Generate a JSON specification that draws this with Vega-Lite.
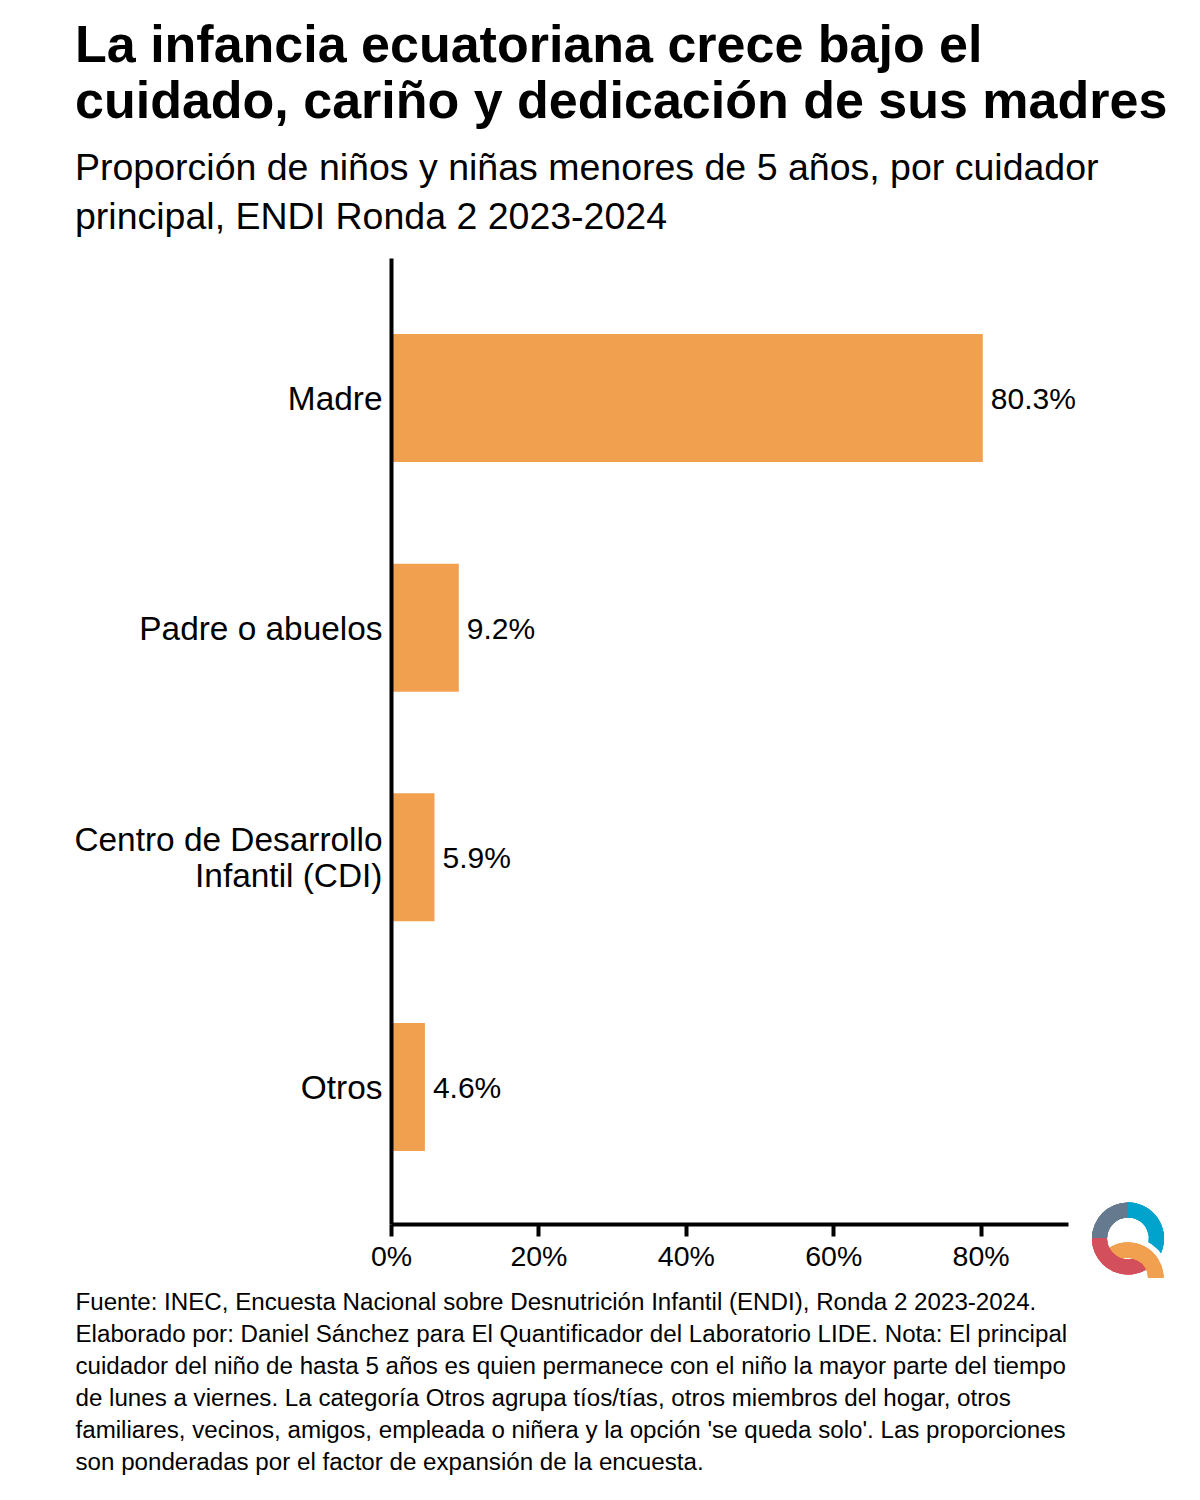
{"$schema":"https://vega.github.io/schema/vega-lite/v6.json","width":677,"height":966,"autosize":{"type":"none"},"padding":{"left":391,"top":258,"right":132,"bottom":276},"background":"white","config":{"view":{"stroke":null},"font":"Liberation Sans"},"title":{"text":["La infancia ecuatoriana crece bajo el","cuidado, cariño y dedicación de sus madres"],"subtitle":["Proporción de niños y niñas menores de 5 años, por cuidador","principal, ENDI Ronda 2 2023-2024"],"anchor":"start","frame":"group","dx":-316,"offset":21,"font":"Liberation Sans","fontSize":52,"fontWeight":"bold","lineHeight":56,"color":"#000000","subtitleFont":"Liberation Sans","subtitleFontSize":37.5,"subtitleLineHeight":49,"subtitleColor":"#000000","subtitlePadding":21},"data":{"values":[{"cuidador":"Madre","proporcion":0.803},{"cuidador":"Padre o abuelos","proporcion":0.092},{"cuidador":"Centro de Desarrollo Infantil (CDI)","proporcion":0.059},{"cuidador":"Otros","proporcion":0.046}]},"layer":[{"layer":[{"mark":{"type":"bar","color":"#F1A050"},"encoding":{"y":{"field":"cuidador","type":"nominal","sort":null,"title":null,"scale":{"paddingInner":0.4425,"paddingOuter":0.325,"align":0.51},"axis":{"ticks":false,"zindex":1,"domainWidth":4,"domainColor":"#000000","labelFontSize":33.4,"labelColor":"#000000","labelPadding":9,"labelLineHeight":36,"labelLimit":400,"labelExpr":"datum.label=='Centro de Desarrollo Infantil (CDI)'?['Centro de Desarrollo','Infantil (CDI)']:datum.label","labelOffset":{"condition":{"test":"datum.value=='Centro de Desarrollo Infantil (CDI)'","value":-16},"value":2}}},"x":{"field":"proporcion","type":"quantitative","scale":{"domain":[0,0.9186],"nice":false},"axis":{"format":".0%","values":[0,0.2,0.4,0.6,0.8],"grid":false,"zindex":1,"domainWidth":4,"domainColor":"#000000","tickWidth":4,"tickColor":"#000000","tickSize":12,"labelFontSize":28.5,"labelColor":"#000000","labelPadding":6,"labelFlush":false,"title":["Fuente: INEC, Encuesta Nacional sobre Desnutrición Infantil (ENDI), Ronda 2 2023-2024.","Elaborado por: Daniel Sánchez para El Quantificador del Laboratorio LIDE. Nota: El principal","cuidador del niño de hasta 5 años es quien permanece con el niño la mayor parte del tiempo","de lunes a viernes. La categoría Otros agrupa tíos/tías, otros miembros del hogar, otros","familiares, vecinos, amigos, empleada o niñera y la opción 'se queda solo'. Las proporciones","son ponderadas por el factor de expansión de la encuesta."],"titleFont":"Liberation Sans","titleFontSize":24.15,"titleFontWeight":"normal","titleColor":"#000000","titleAlign":"left","titleAnchor":"start","titleBaseline":"top","titleX":-316,"titleY":66,"titleLineHeight":32}}}},{"mark":{"type":"text","align":"left","baseline":"middle","dx":8,"dy":2,"fontSize":30,"color":"#000000"},"encoding":{"y":{"field":"cuidador","type":"nominal","sort":null},"x":{"field":"proporcion","type":"quantitative"},"text":{"field":"proporcion","type":"quantitative","format":".1%"}}}]},{"layer":[{"mark":{"type":"arc","color":"#00A3CC","outerRadius":36,"innerRadius":21,"theta":0,"theta2":2.3},"encoding":{"x":{"datum":1.0},"y":{"datum":-0.015,"type":"quantitative","scale":{"domain":[0,1],"range":[966,0]},"axis":null}}},{"mark":{"type":"arc","color":"#667A8F","outerRadius":36,"innerRadius":21,"theta":4.7124,"theta2":6.2832},"encoding":{"x":{"datum":1.0},"y":{"datum":-0.015,"type":"quantitative","scale":{"domain":[0,1],"range":[966,0]},"axis":null}}},{"mark":{"type":"arc","color":"#D44F5C","outerRadius":36,"innerRadius":21,"theta":2.6,"theta2":3.1416},"encoding":{"x":{"datum":1.0},"y":{"datum":-0.015,"type":"quantitative","scale":{"domain":[0,1],"range":[966,0]},"axis":null}}},{"mark":{"type":"arc","color":"#FFFFFF","outerRadius":41,"innerRadius":35,"theta":0.1,"theta2":1.5708},"encoding":{"x":{"datum":1.0},"y":{"datum":-0.0559,"type":"quantitative","scale":{"domain":[0,1],"range":[966,0]},"axis":null}}},{"mark":{"type":"arc","color":"#F1A050","outerRadius":35.5,"innerRadius":20,"theta":-0.6,"theta2":1.5708},"encoding":{"x":{"datum":1.0},"y":{"datum":-0.0559,"type":"quantitative","scale":{"domain":[0,1],"range":[966,0]},"axis":null}}},{"mark":{"type":"arc","color":"#D44F5C","outerRadius":36,"innerRadius":21,"theta":3.1416,"theta2":4.7124},"encoding":{"x":{"datum":1.0},"y":{"datum":-0.015,"type":"quantitative","scale":{"domain":[0,1],"range":[966,0]},"axis":null}}}]}],"resolve":{"scale":{"y":"independent"}}}
